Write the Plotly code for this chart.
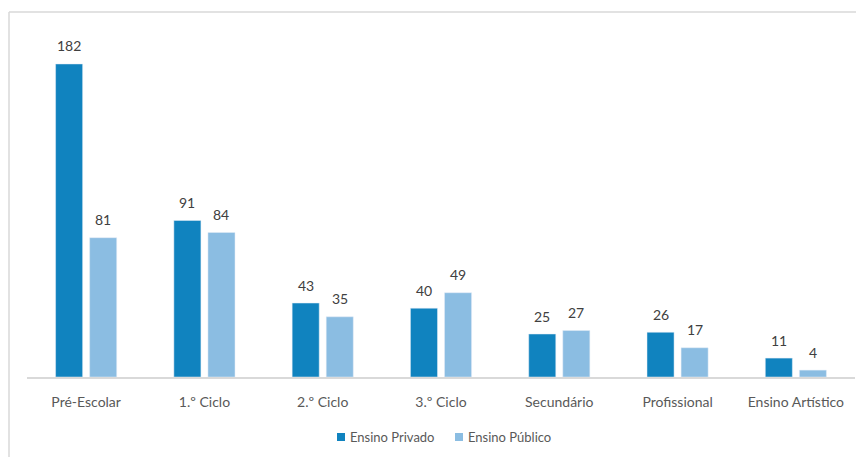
import plotly.graph_objects as go

categories = ["Pré-Escolar", "1.º Ciclo", "2.º Ciclo", "3.º Ciclo", "Secundário", "Profissional", "Ensino Artístico"]
privado = [182, 91, 43, 40, 25, 26, 11]
publico = [81, 84, 35, 49, 27, 17, 4]
series_names = ["Ensino Privado", "Ensino Público"]

dark_blue = "#1083BF"
light_blue = "#8BBDE2"
font_family = "Lato, 'Open Sans', sans-serif"

# plot area geometry (pixels)
W, H = 856, 457
ML, MR, MT, MB = 27, 1, 33, 80
PW, PH = W - ML - MR, H - MT - MB


def px_x(px):
    return (px - ML) / PW


def px_y(py):
    return (H - MB - py) / PH


fig = go.Figure()
for name, vals, color in [(series_names[0], privado, dark_blue), (series_names[1], publico, light_blue)]:
    fig.add_trace(go.Bar(name=name, x=categories, y=vals, marker_color=color, showlegend=False))

# value labels above each bar
for vals, shift in [(privado, -17), (publico, 17)]:
    for cat, v in zip(categories, vals):
        fig.add_annotation(x=cat, y=v, text=str(v), showarrow=False, xshift=shift, yshift=18,
                           yanchor="middle", font=dict(size=14, color="#404040", family=font_family))

# light frame on the left and top edges
frame = dict(type="line", xref="paper", yref="paper", line=dict(color="#D9D9D9", width=1.5))
fig.add_shape(**frame, x0=px_x(9), x1=px_x(9), y0=px_y(460), y1=px_y(12))
fig.add_shape(**frame, x0=px_x(9), x1=px_x(860), y0=px_y(12), y1=px_y(12))

# legend: small squares with labels
for (sx, tx), name, color in zip([(337, 348), (455, 466)], series_names, [dark_blue, light_blue]):
    fig.add_shape(type="rect", xref="paper", yref="paper", x0=px_x(sx), x1=px_x(sx + 8),
                  y0=px_y(441), y1=px_y(433), fillcolor=color, line=dict(width=0))
    fig.add_annotation(xref="paper", yref="paper", x=px_x(tx), y=px_y(437), text=name, showarrow=False,
                       xanchor="left", yanchor="middle", font=dict(size=13, color="#595959", family=font_family))

fig.update_layout(
    width=W, height=H,
    margin=dict(l=ML, r=MR, t=MT, b=MB),
    paper_bgcolor="white", plot_bgcolor="white",
    barmode="group", bargap=0.424, bargroupgap=0.206,
    font=dict(family=font_family, size=13, color="#595959"),
    showlegend=False,
    xaxis=dict(showline=True, linecolor="#D9D9D9", linewidth=1.5, ticks="outside",
               ticklen=11, tickcolor="rgba(0,0,0,0)", tickfont=dict(size=14, color="#595959")),
    yaxis=dict(range=[0, 200], visible=False, showgrid=False),
)

fig.write_html("out.html")
